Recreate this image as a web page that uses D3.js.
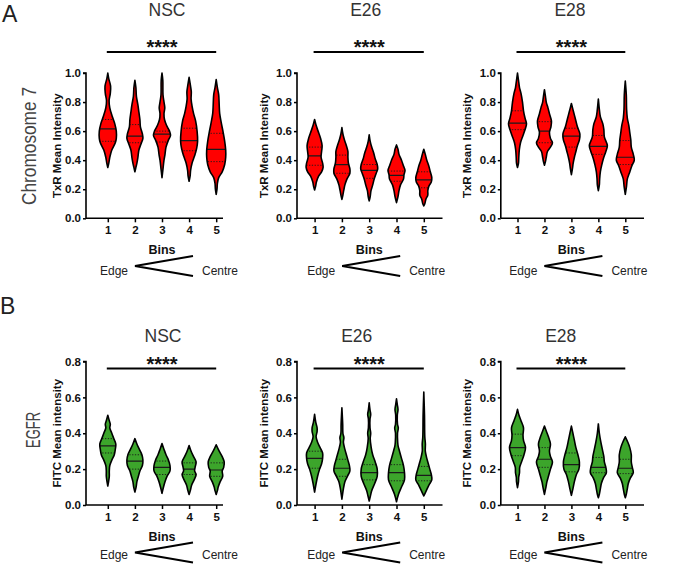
<!DOCTYPE html>
<html><head><meta charset="utf-8">
<script src="https://cdn.jsdelivr.net/npm/d3@7"></script>
<style>
html,body{margin:0;padding:0;background:#fff;}
text{font-family:"Liberation Sans",Arial,Helvetica,sans-serif;}
</style></head>
<body>
<svg id="chart" width="677" height="571"></svg>
<script>
// ---------------- DATA ----------------
const bins = [1, 2, 3, 4, 5];
const cellLines = ["NSC", "E26", "E28"];
const rowLabels = ["Chromosome 7", "EGFR"];
const panelLetters = ["A", "B"];
const yTitles = ["TxR Mean Intensity", "FITC Mean intensity"];
const rowAYTicks = [0, 0.2, 0.4, 0.6, 0.8, 1.0];
const rowBYTicks = [0, 0.2, 0.4, 0.6, 0.8];
const significance = "****";

// Chromosome 7 (TxR) — violin profiles: [value, relative density]
const chr7_NSC_shape = [
  [[1.0,0],[0.96,1],[0.91,2.8],[0.86,2.5],[0.81,1.3],[0.76,2],[0.70,4.5],[0.65,7],[0.60,8.5],[0.55,8.5],[0.52,7.5],[0.47,4],[0.42,2],[0.38,1],[0.35,0]],
  [[0.95,0],[0.90,1],[0.84,1.5],[0.78,3],[0.73,4],[0.68,5],[0.63,5.5],[0.58,7.5],[0.55,8],[0.51,6],[0.47,4],[0.42,3],[0.38,2],[0.35,1],[0.32,0]],
  [[1.0,0],[0.95,0.8],[0.85,1],[0.80,2],[0.76,2.8],[0.72,2],[0.68,2.5],[0.64,4.5],[0.60,7.5],[0.57,8.5],[0.54,6.5],[0.49,4],[0.44,3],[0.40,2],[0.34,1],[0.28,0]],
  [[0.97,0],[0.92,1.2],[0.87,2.2],[0.82,2],[0.77,3],[0.72,4.5],[0.67,6.5],[0.60,8],[0.53,8.5],[0.48,7.5],[0.43,5.5],[0.38,3],[0.33,1.5],[0.29,1],[0.255,0]],
  [[0.955,0],[0.90,1.2],[0.85,2.5],[0.78,3],[0.72,3.5],[0.66,5],[0.59,7],[0.53,8.5],[0.47,9.5],[0.42,9.5],[0.37,8.5],[0.32,6],[0.28,2.5],[0.24,1.2],[0.20,0.8],[0.165,0]]
];
const chr7_NSC_median = [0.615, 0.565, 0.58, 0.535, 0.475];
const chr7_NSC_q1 = [0.53, 0.52, 0.525, 0.465, 0.39];
const chr7_NSC_q3 = [0.68, 0.645, 0.60, 0.62, 0.585];

const chr7_E26_shape = [
  [[0.68,0],[0.64,1.5],[0.60,3.5],[0.55,6],[0.50,7.5],[0.46,7],[0.42,6.5],[0.38,8],[0.35,8.5],[0.32,7],[0.29,4],[0.25,1.8],[0.22,1],[0.195,0]],
  [[0.625,0],[0.58,1],[0.54,2.5],[0.50,4.5],[0.46,6],[0.42,6],[0.38,6.5],[0.34,8],[0.31,8],[0.27,5],[0.23,3],[0.19,1.8],[0.16,1],[0.13,0]],
  [[0.575,0],[0.53,1],[0.49,2.5],[0.45,4.5],[0.41,6],[0.37,8],[0.34,8.5],[0.31,7],[0.27,5],[0.23,3.5],[0.19,1.8],[0.15,1],[0.12,0]],
  [[0.505,0],[0.475,1.5],[0.44,2.5],[0.40,5],[0.36,7],[0.33,8.5],[0.30,7.5],[0.27,7],[0.23,4],[0.19,2.5],[0.15,1.5],[0.108,0]],
  [[0.475,0],[0.44,1.5],[0.40,3],[0.36,5],[0.32,6.5],[0.28,8],[0.25,7.5],[0.22,5],[0.19,4],[0.16,4],[0.13,2],[0.10,1],[0.085,0]]
];
const chr7_E26_median = [0.43, 0.37, 0.33, 0.295, 0.265];
const chr7_E26_q1 = [0.365, 0.31, 0.275, 0.255, 0.21];
const chr7_E26_q3 = [0.49, 0.435, 0.37, 0.325, 0.32];

const chr7_E28_shape = [
  [[1.0,0],[0.95,1],[0.90,2],[0.86,3.5],[0.80,5],[0.74,6],[0.69,7.5],[0.65,9],[0.61,7.5],[0.57,5.5],[0.52,3],[0.47,1.8],[0.42,1.3],[0.38,1],[0.35,0]],
  [[0.885,0],[0.84,1],[0.80,1.8],[0.76,3.5],[0.72,5],[0.67,7],[0.63,6.5],[0.59,5],[0.55,6],[0.52,8],[0.49,6],[0.46,3],[0.42,1.8],[0.39,1],[0.365,0]],
  [[0.79,0],[0.75,1.5],[0.71,3],[0.67,4.5],[0.63,6],[0.58,8.5],[0.54,8],[0.50,6],[0.46,4.5],[0.42,3],[0.38,1.8],[0.34,1],[0.30,0]],
  [[0.82,0],[0.75,1],[0.70,2],[0.65,4.5],[0.61,5.5],[0.56,6],[0.50,9],[0.46,7.5],[0.41,5],[0.37,3.5],[0.32,2],[0.27,1.3],[0.23,1],[0.19,0]],
  [[0.945,0],[0.85,1],[0.75,1.3],[0.69,2],[0.64,3.5],[0.59,4.5],[0.54,5.5],[0.49,6],[0.44,8],[0.40,9],[0.36,6.5],[0.31,4],[0.27,2],[0.22,1.2],[0.165,0]]
];
const chr7_E28_median = [0.655, 0.60, 0.565, 0.495, 0.42];
const chr7_E28_q1 = [0.61, 0.52, 0.49, 0.44, 0.37];
const chr7_E28_q3 = [0.74, 0.665, 0.62, 0.57, 0.535];

// EGFR (FITC)
const egfr_NSC_shape = [
  [[0.50,0],[0.47,1.5],[0.45,2.5],[0.43,2],[0.40,4],[0.37,6],[0.34,8],[0.31,7.5],[0.28,6.5],[0.25,4],[0.22,2],[0.19,1.5],[0.16,1.5],[0.13,0.8],[0.106,0]],
  [[0.37,0],[0.34,2],[0.31,4.5],[0.28,7],[0.25,8],[0.22,7.5],[0.19,5],[0.16,3.5],[0.13,2],[0.10,1.2],[0.072,0]],
  [[0.343,0],[0.31,2],[0.28,4],[0.25,6.5],[0.22,8],[0.19,8],[0.16,5],[0.13,3],[0.10,1.5],[0.065,0]],
  [[0.332,0],[0.30,2],[0.27,4.5],[0.24,7],[0.21,6],[0.19,5.5],[0.17,7],[0.14,5],[0.11,2.5],[0.08,1.2],[0.059,0]],
  [[0.336,0],[0.30,3],[0.27,6],[0.24,8],[0.21,7.5],[0.19,6],[0.16,6.5],[0.13,4],[0.10,2],[0.08,1.2],[0.059,0]]
];
const egfr_NSC_median = [0.33, 0.245, 0.21, 0.20, 0.195];
const egfr_NSC_q1 = [0.29, 0.20, 0.17, 0.17, 0.16];
const egfr_NSC_q3 = [0.37, 0.28, 0.245, 0.235, 0.235];

const egfr_E26_shape = [
  [[0.505,0],[0.46,1.2],[0.43,2.5],[0.41,2.5],[0.38,1.5],[0.35,3],[0.32,5.5],[0.29,8],[0.26,8],[0.23,7],[0.20,5],[0.16,3],[0.12,1.5],[0.072,0]],
  [[0.542,0],[0.45,0.8],[0.40,1],[0.375,2],[0.35,1.5],[0.31,3],[0.28,4.5],[0.25,6],[0.22,7.5],[0.19,8],[0.16,5.5],[0.13,3],[0.09,1.5],[0.032,0]],
  [[0.57,0],[0.53,0.8],[0.505,1.5],[0.48,0.8],[0.43,0.8],[0.40,1.5],[0.37,1],[0.32,2],[0.28,3.5],[0.24,6],[0.20,8],[0.16,8],[0.12,5.5],[0.08,2.5],[0.05,1.2],[0.022,0]],
  [[0.592,0],[0.56,0.8],[0.533,1.5],[0.50,0.8],[0.45,1],[0.43,1.8],[0.40,1],[0.35,1.2],[0.33,1.6],[0.30,3],[0.26,5],[0.22,7],[0.18,8],[0.14,8],[0.10,5],[0.06,2],[0.018,0]],
  [[0.63,0],[0.50,0.7],[0.38,1],[0.34,1.6],[0.30,1.5],[0.26,3],[0.23,4.5],[0.20,6],[0.17,7.5],[0.14,8],[0.11,5],[0.08,2.5],[0.05,0]]
];
const egfr_E26_median = [0.26, 0.205, 0.18, 0.18, 0.165];
const egfr_E26_q1 = [0.205, 0.16, 0.14, 0.135, 0.135];
const egfr_E26_q3 = [0.30, 0.255, 0.225, 0.225, 0.215];

const egfr_E28_shape = [
  [[0.533,0],[0.50,1.5],[0.47,3.5],[0.43,6],[0.39,5.5],[0.36,6],[0.32,8],[0.28,6.5],[0.24,4],[0.21,2.2],[0.18,2],[0.155,1.2],[0.13,1],[0.097,0]],
  [[0.44,0],[0.41,2],[0.38,4],[0.34,6],[0.30,5],[0.27,6],[0.24,8],[0.20,6],[0.16,4],[0.13,2.5],[0.10,1.5],[0.059,0]],
  [[0.44,0],[0.40,1.5],[0.36,3],[0.32,4.5],[0.28,6.5],[0.24,8],[0.20,7.5],[0.17,5],[0.13,3],[0.09,1.5],[0.054,0]],
  [[0.452,0],[0.40,1],[0.35,2.5],[0.31,4],[0.27,5.5],[0.24,6],[0.21,7.5],[0.18,8],[0.15,5],[0.12,3],[0.09,2],[0.06,1],[0.041,0]],
  [[0.38,0],[0.35,2.5],[0.32,4.5],[0.28,6],[0.24,6],[0.21,7],[0.18,8],[0.15,5],[0.12,3],[0.09,2],[0.06,1],[0.041,0]]
];
const egfr_E28_median = [0.32, 0.255, 0.225, 0.21, 0.205];
const egfr_E28_q1 = [0.275, 0.21, 0.185, 0.18, 0.175];
const egfr_E28_q3 = [0.395, 0.32, 0.29, 0.265, 0.255];

// ---------------- LAYOUT ----------------
const svg = d3.select("#chart");
const FONT = '"Liberation Sans",Arial,Helvetica,sans-serif';

const cols = [
  {axisX: 86,    x1: 107.8, x5: 216.2, end: 223,   yTitleOff: 29.5},
  {axisX: 297,   x1: 314.6, x5: 423.8, end: 442.5, yTitleOff: 33.5},
  {axisX: 500.8, x1: 517.5, x5: 625.3, end: 644,   yTitleOff: 33.5}
];
const rows = [
  {y0: 218.3, yTop: 73,    ticks: rowAYTicks, fill: "#ff0000", titleY: 16, titleX: [167, 365.7, 570],
   barY: 52, starY: 54.3, binsY: 254, edgeY: 275, wedgeY: 266, wedgeH: 10, letterY: 22, rowLabelY: 146,
   data: [
     {shape: chr7_NSC_shape, med: chr7_NSC_median, q1: chr7_NSC_q1, q3: chr7_NSC_q3},
     {shape: chr7_E26_shape, med: chr7_E26_median, q1: chr7_E26_q1, q3: chr7_E26_q3},
     {shape: chr7_E28_shape, med: chr7_E28_median, q1: chr7_E28_q1, q3: chr7_E28_q3}
   ]},
  {y0: 505, yTop: 361.5, ticks: rowBYTicks, fill: "#3ca52b", titleY: 342, titleX: [163, 356.7, 560.7],
   barY: 368.5, starY: 370.5, binsY: 541, edgeY: 558.5, wedgeY: 552.5, wedgeH: 10, letterY: 314, rowLabelY: 430,
   data: [
     {shape: egfr_NSC_shape, med: egfr_NSC_median, q1: egfr_NSC_q1, q3: egfr_NSC_q3},
     {shape: egfr_E26_shape, med: egfr_E26_median, q1: egfr_E26_q1, q3: egfr_E26_q3},
     {shape: egfr_E28_shape, med: egfr_E28_median, q1: egfr_E28_q1, q3: egfr_E28_q3}
   ]}
];

const wScale = d3.scaleLinear().domain([0, 10]).range([0, 10]);
let clipId = 0;

rows.forEach((row, ri) => {
  // Panel letter
  svg.append("text").attr("x", ri === 0 ? 2 : 0).attr("y", row.letterY)
    .attr("font-size", 23).attr("fill", "#222").text(panelLetters[ri]);
  // Row label (rotated)
  svg.append("text")
    .attr("transform", `translate(${ri === 0 ? 36 : 39.5},${row.rowLabelY}) rotate(-90)`)
    .attr("text-anchor", "middle").attr("font-size", 21).attr("fill", "#444")
    .attr("textLength", ri === 0 ? 118 : 36).attr("lengthAdjust", "spacingAndGlyphs")
    .text(rowLabels[ri]);

  cols.forEach((col, ci) => {
    const maxV = row.ticks[row.ticks.length - 1];
    const y = d3.scaleLinear().domain([0, maxV]).range([row.y0, row.yTop]);
    const x = d3.scaleLinear().domain([1, 5]).range([col.x1, col.x5]);
    const g = svg.append("g");
    const d = row.data[ci];

    // Violins
    bins.forEach((b, i) => {
      const cx = x(b);
      const area = d3.area()
        .curve(d3.curveCatmullRom.alpha(0.5))
        .y(p => y(p[0]))
        .x0(p => cx - wScale(p[1]))
        .x1(p => cx + wScale(p[1]));
      const pathD = area(d.shape[i]);
      const id = "clip" + (clipId++);
      g.append("clipPath").attr("id", id).append("path").attr("d", pathD);
      g.append("path").attr("d", pathD).attr("fill", row.fill).attr("stroke", "none");
      const lines = g.append("g").attr("clip-path", `url(#${id})`);
      lines.append("line").attr("x1", cx - 14).attr("x2", cx + 14)
        .attr("y1", y(d.med[i])).attr("y2", y(d.med[i]))
        .attr("stroke", "#1a1a1a").attr("stroke-width", 1.2);
      [d.q1[i], d.q3[i]].forEach(q => {
        lines.append("line").attr("x1", cx - 14).attr("x2", cx + 14)
          .attr("y1", y(q)).attr("y2", y(q))
          .attr("stroke", "#1a1a1a").attr("stroke-width", 0.9).attr("stroke-dasharray", "1.3,1.5");
      });
      g.append("path").attr("d", pathD).attr("fill", "none")
        .attr("stroke", "#000").attr("stroke-width", 1.6).attr("stroke-linejoin", "round");
    });

    // Y axis
    const yAxis = g.append("g").attr("transform", `translate(${col.axisX},0)`)
      .call(d3.axisLeft(y).tickValues(row.ticks).tickFormat(d3.format(".1f")).tickSize(3).tickPadding(2));
    yAxis.select(".domain").attr("stroke-width", 1.6).attr("d", `M-3,${row.yTop}H0V${row.y0}`);
    yAxis.selectAll(".tick line").attr("stroke-width", 1.5);
    yAxis.selectAll("text").attr("font-size", 11.5).attr("font-weight", "bold")
      .attr("font-family", FONT).attr("fill", "#111");

    // X axis
    const xAxis = g.append("g").attr("transform", `translate(0,${row.y0})`)
      .call(d3.axisBottom(x).tickValues(bins).tickFormat(d3.format("d")).tickSize(4).tickPadding(4));
    xAxis.select(".domain").attr("d", `M${col.axisX},0H${col.end}`).attr("stroke-width", 1.6);
    xAxis.selectAll(".tick line").attr("stroke-width", 1.5);
    xAxis.selectAll("text").attr("font-size", 11.5).attr("font-weight", "bold")
      .attr("font-family", FONT).attr("fill", "#111");

    // Y title
    svg.append("text")
      .attr("transform", `translate(${col.axisX - col.yTitleOff + 4},${(row.y0 + row.yTop) / 2}) rotate(-90)`)
      .attr("text-anchor", "middle").attr("font-size", 11.5).attr("font-weight", "bold").attr("fill", "#111")
      .text(yTitles[ri]);

    // Title
    svg.append("text").attr("x", row.titleX[ci]).attr("y", row.titleY)
      .attr("text-anchor", "middle").attr("font-size", 17.5).attr("fill", "#333")
      .text(cellLines[ci]);

    // Significance bar + stars
    svg.append("line").attr("x1", x(1) - 1).attr("x2", x(5)).attr("y1", row.barY).attr("y2", row.barY)
      .attr("stroke", "#000").attr("stroke-width", 2);
    svg.append("text").attr("x", x(3)).attr("y", row.starY).attr("text-anchor", "middle")
      .attr("font-size", 20).attr("font-weight", "bold").attr("fill", "#111").text(significance);

    // Bins label
    svg.append("text").attr("x", x(3)).attr("y", row.binsY).attr("text-anchor", "middle")
      .attr("font-size", 12.5).attr("font-weight", "bold").attr("fill", "#111").text("Bins");

    // Edge / Centre wedge
    const apex = x(3) - 27, tip = x(3) + 31;
    svg.append("path")
      .attr("d", `M${tip},${row.wedgeY - row.wedgeH}L${apex},${row.wedgeY}L${tip},${row.wedgeY + row.wedgeH}`)
      .attr("fill", "none").attr("stroke", "#000").attr("stroke-width", 2);
    svg.append("text").attr("x", apex - 7).attr("y", row.edgeY).attr("text-anchor", "end")
      .attr("font-size", 12).attr("fill", "#222").text("Edge");
    svg.append("text").attr("x", tip + 9).attr("y", row.edgeY).attr("text-anchor", "start")
      .attr("font-size", 12).attr("fill", "#222").text("Centre");
  });
});
</script>
</body></html>
